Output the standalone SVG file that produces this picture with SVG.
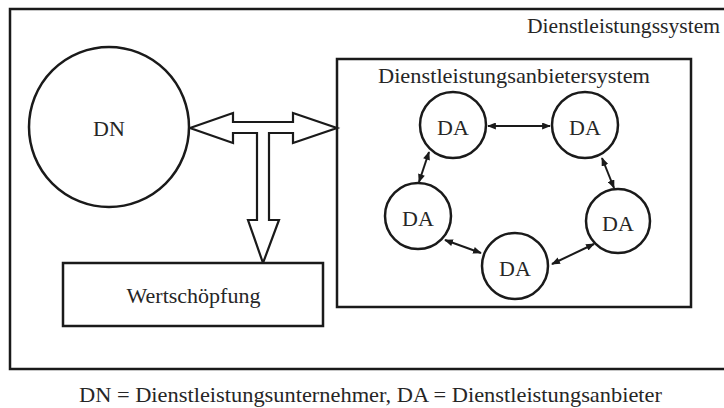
<svg xmlns="http://www.w3.org/2000/svg" width="724" height="408" viewBox="0 0 724 408">
<style>
  .box{fill:none;stroke:#1a1a1a;stroke-width:2.5}
  .node{fill:#fff;stroke:#1a1a1a;stroke-width:2.5}
  .t{font-family:"Liberation Serif","Times New Roman",serif;font-size:22px;fill:#262626}
  .c{text-anchor:middle}
  .link{fill:none;stroke:#1a1a1a;stroke-width:2;marker-start:url(#ah);marker-end:url(#ah)}
  .big{fill:#fff;stroke:#1a1a1a;stroke-width:2.2;stroke-linejoin:miter}
</style>
<defs>
  <marker id="ah" viewBox="0 0 10 8" refX="9" refY="4" markerWidth="9" markerHeight="7" markerUnits="userSpaceOnUse" orient="auto-start-reverse">
    <path d="M0,0 L10,4 L0,8 z" fill="#1a1a1a"/>
  </marker>
</defs>
<rect width="724" height="408" fill="#fff"/>
<g id="dienstleistungssystem">
  <rect class="box" x="10" y="9" width="730" height="360"/>
  <text class="t" x="527" y="33" textLength="193" lengthAdjust="spacingAndGlyphs">Dienstleistungssystem</text>
</g>
<g id="anbietersystem">
  <rect class="box" x="337" y="59" width="354" height="248"/>
  <text class="t" x="378" y="83" textLength="272" lengthAdjust="spacingAndGlyphs">Dienstleistungsanbietersystem</text>
</g>
<g id="connectors">
  <path class="big" d="M190,128 L233,113 L233,122 L293,122 L293,113 L337,128 L293,143 L293,133 L269,133 L269,220 L279,220 L263,263 L248,220 L257,220 L257,133 L233,133 L233,143 Z"/>
  <line class="link" x1="488" y1="126" x2="550" y2="126"/>
  <line class="link" x1="429" y1="152" x2="419" y2="182"/>
  <line class="link" x1="602" y1="158" x2="614" y2="188"/>
  <line class="link" x1="445" y1="240" x2="481" y2="253"/>
  <line class="link" x1="552" y1="264" x2="594" y2="244"/>
</g>
<g id="dn">
  <circle class="node" cx="109" cy="127" r="80"/>
  <text class="t c" x="109" y="136">DN</text>
</g>
<g id="wertschoepfung">
  <rect class="node" x="63" y="263" width="260" height="63"/>
  <text class="t c" x="193.5" y="303">Wertschöpfung</text>
</g>
<g id="da1">
  <circle class="node" cx="453" cy="125" r="33"/>
  <text class="t c" x="453" y="135">DA</text>
</g>
<g id="da2">
  <circle class="node" cx="585" cy="125" r="33"/>
  <text class="t c" x="585" y="135">DA</text>
</g>
<g id="da3">
  <circle class="node" cx="418" cy="216" r="33"/>
  <text class="t c" x="418" y="226">DA</text>
</g>
<g id="da4">
  <circle class="node" cx="515" cy="266" r="33"/>
  <text class="t c" x="515" y="276">DA</text>
</g>
<g id="da5">
  <circle class="node" cx="618" cy="221" r="32"/>
  <text class="t c" x="618" y="231">DA</text>
</g>
<text class="t c" x="370.5" y="402" textLength="583" lengthAdjust="spacingAndGlyphs">DN = Dienstleistungsunternehmer, DA = Dienstleistungsanbieter</text>
</svg>
